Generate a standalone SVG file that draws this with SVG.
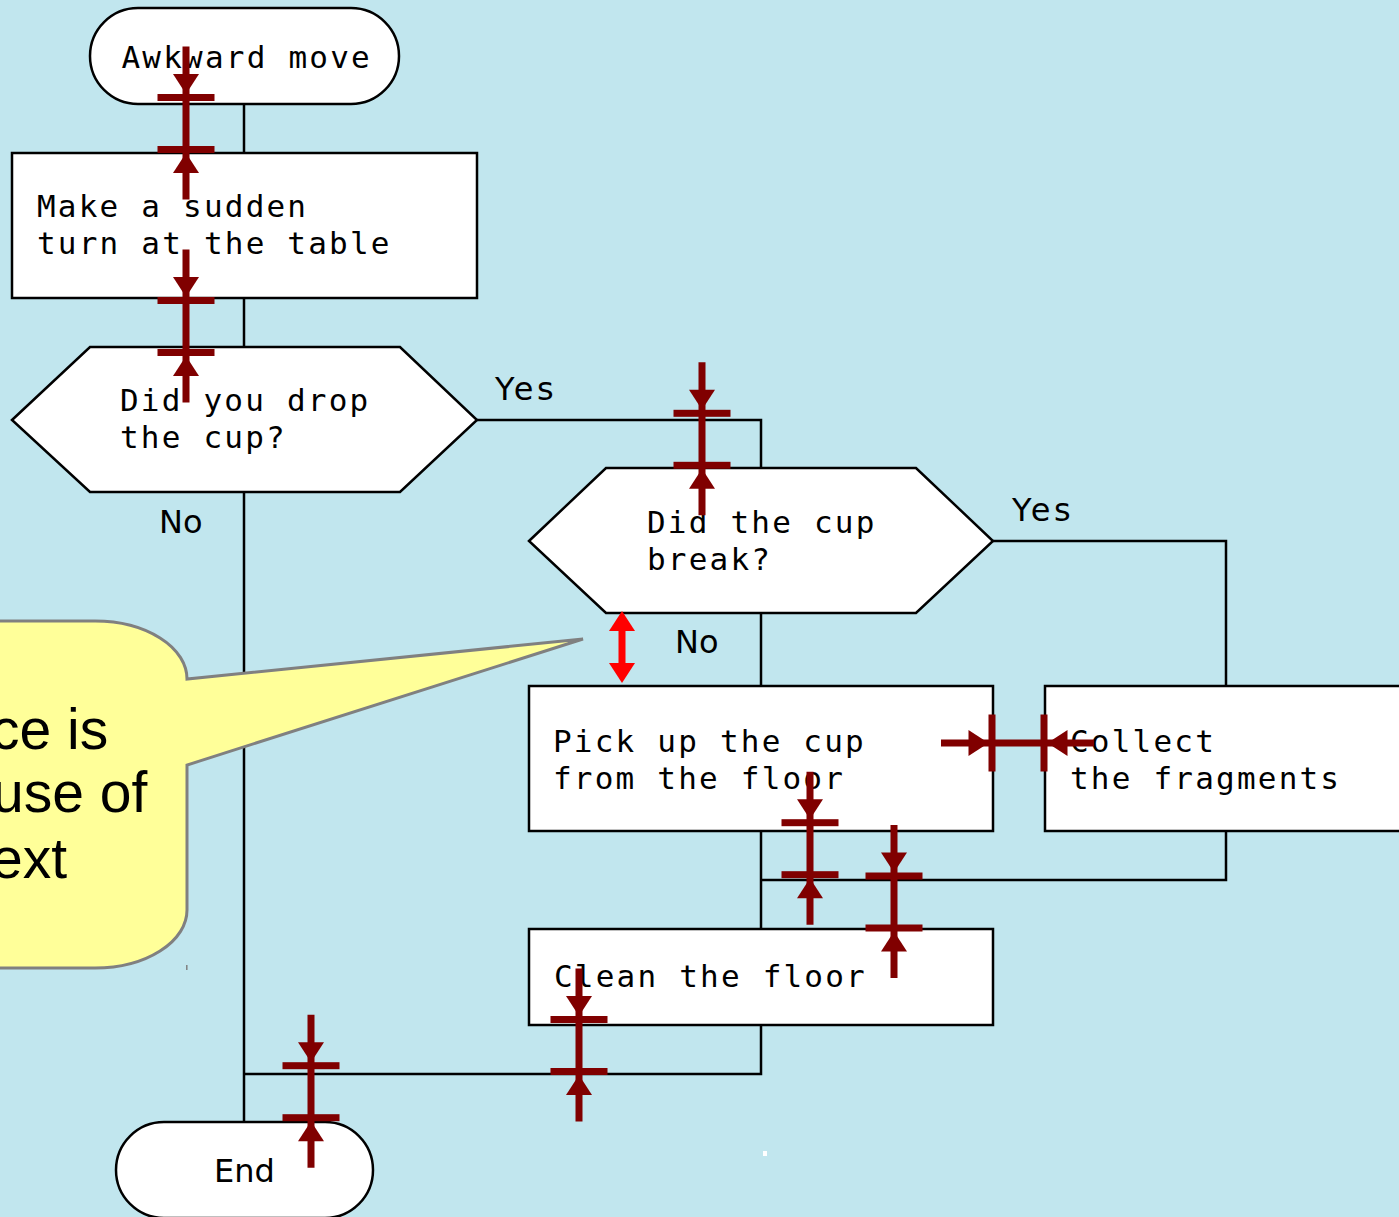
<svg xmlns="http://www.w3.org/2000/svg" xmlns:xlink="http://www.w3.org/1999/xlink" width="1399" height="1217" viewBox="0 0 1399 1217">
<style>
.bg{fill:#c1e6ee}
.shape{fill:#ffffff;stroke:#000000;stroke-width:2.5}
.conn{fill:none;stroke:#000000;stroke-width:2.5}
.mono{font-family:"DejaVu Sans Mono","Liberation Mono",monospace;font-size:31px;letter-spacing:2.2px;fill:#000000}
.lbl{font-family:"DejaVu Sans","Liberation Sans",sans-serif;font-size:32px;fill:#000000}
.yes{letter-spacing:3.5px}
.callout{fill:#ffff99;stroke:#808080;stroke-width:3;stroke-linejoin:miter}
.ctext{font-family:"Liberation Sans",Arial,sans-serif;font-size:57px;fill:#000000}
.dimfill{fill:#800000}
.dimline{stroke:#800000;stroke-width:7;fill:none}
.red{fill:#ff0000}
.redline{stroke:#ff0000;stroke-width:7;fill:none}
</style>
<defs>
<g id="vdim">
<line class="dimline" x1="0" y1="-51" x2="0" y2="102"/>
<rect class="dimfill" x="-28.5" y="-3.5" width="57" height="7"/>
<rect class="dimfill" x="-28.5" y="48.5" width="57" height="7"/>
<polygon class="dimfill" points="0,-3.5 -13,-23.5 13,-23.5"/>
<polygon class="dimfill" points="0,55.5 -13,75.5 13,75.5"/>
</g>
</defs>
<rect class="bg" x="0" y="0" width="1399" height="1217"/>

<g id="connectors">
<path class="conn" d="M244,104 V153"/>
<path class="conn" d="M244,298 V347"/>
<path class="conn" d="M477,420 H761 V468"/>
<path class="conn" d="M993,541 H1226 V686"/>
<path class="conn" d="M761,613 V686"/>
<path class="conn" d="M244,492 V1122"/>
<path class="conn" d="M761,831 V929"/>
<path class="conn" d="M1226,831 V880 H761"/>
<path class="conn" d="M761,1025 V1074 H244"/>
</g>

<g id="labels">
<text class="lbl yes" x="495" y="400">Yes</text>
<text class="lbl" x="159" y="533">No</text>
<text class="lbl yes" x="1012" y="521">Yes</text>
<text class="lbl" x="675" y="653">No</text>
</g>

<g id="node-start">
<rect class="shape" x="90" y="8" width="309" height="96" rx="48" ry="48"/>
<text class="mono" x="121.5" y="68">Awkward move</text>
</g>

<g id="node-turn">
<rect class="shape" x="12" y="153" width="465" height="145"/>
<text class="mono" x="37" y="217">Make a sudden</text>
<text class="mono" x="37" y="254">turn at the table</text>
</g>

<g id="node-drop">
<polygon class="shape" points="12,420 90,347 400,347 477,420 400,492 90,492"/>
<text class="mono" x="120" y="411">Did you drop</text>
<text class="mono" x="120" y="448">the cup?</text>
</g>

<g id="node-break">
<polygon class="shape" points="529,541 606,468 916,468 993,541 916,613 606,613"/>
<text class="mono" x="647" y="533">Did the cup</text>
<text class="mono" x="647" y="570">break?</text>
</g>

<g id="node-pickup">
<rect class="shape" x="529" y="686" width="464" height="145"/>
<text class="mono" x="553" y="752">Pick up the cup</text>
<text class="mono" x="553" y="789">from the floor</text>
</g>

<g id="node-collect">
<rect class="shape" x="1045" y="686" width="464" height="145"/>
<text class="mono" x="1070" y="752">Collect</text>
<text class="mono" x="1070" y="789">the fragments</text>
</g>

<g id="node-clean">
<rect class="shape" x="529" y="929" width="464" height="96"/>
<text class="mono" x="554" y="987">Clean the floor</text>
</g>

<g id="node-end">
<rect class="shape" x="116" y="1122" width="257" height="96" rx="48" ry="48"/>
<text class="lbl" x="244.5" y="1182" text-anchor="middle">End</text>
</g>

<g id="callout">
<path class="callout" d="M-300,621 L95,621 A92,58 0 0 1 187,679 L583,639 L187,765 L187,910 A92,58 0 0 1 95,968 L-300,968 Z"/>
<text class="ctext" x="-9" y="749">ce is</text>
<text class="ctext" x="-8" y="812">use of</text>
<text class="ctext" x="-9" y="878">ext</text>
<line x1="186.8" y1="965" x2="186.8" y2="970" stroke="#808080" stroke-width="1.5"/>
</g>

<g id="dimensions">
<use xlink:href="#vdim" href="#vdim" transform="translate(186,97.5)"/>
<use xlink:href="#vdim" href="#vdim" transform="translate(186,300.5)"/>
<use xlink:href="#vdim" href="#vdim" transform="translate(702,413.3)"/>
<use xlink:href="#vdim" href="#vdim" transform="translate(810,822.7)"/>
<use xlink:href="#vdim" href="#vdim" transform="translate(894,876)"/>
<use xlink:href="#vdim" href="#vdim" transform="translate(579,1019.5)"/>
<use xlink:href="#vdim" href="#vdim" transform="translate(311,1065.7)"/>
<use xlink:href="#vdim" href="#vdim" transform="translate(992,743) rotate(-90)"/>
</g>

<g id="red-arrow">
<line class="redline" x1="622" y1="628" x2="622" y2="666"/>
<polygon class="red" points="622,611 609,631 635,631"/>
<polygon class="red" points="622,683 609,663 635,663"/>
</g>

<rect x="763" y="1151" width="4" height="5" fill="#ffffff"/>
</svg>
